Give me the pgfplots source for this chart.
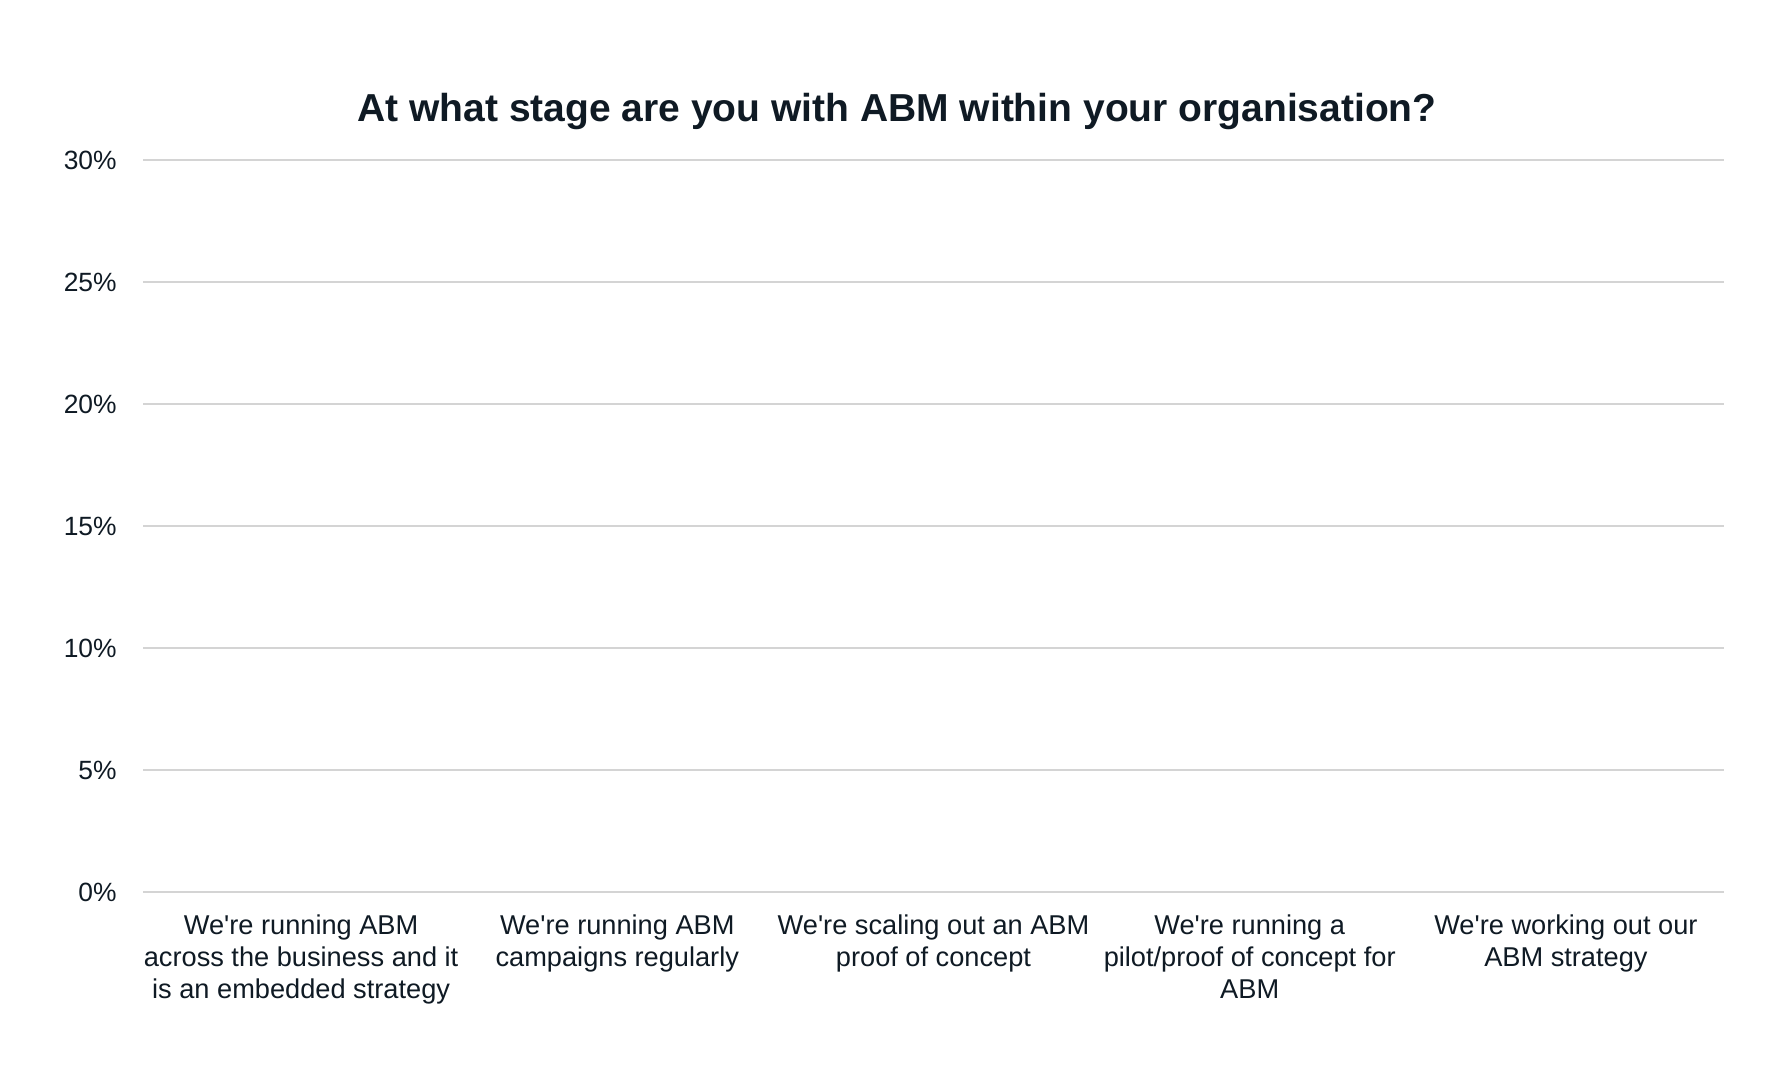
\documentclass[border=0pt]{standalone}
\usepackage{pgfplots}
\pgfplotsset{compat=1.18}
\usepackage{fontspec}
\setmainfont{Liberation Sans}
\definecolor{txt}{HTML}{0F1A24}
\definecolor{gridc}{HTML}{D4D4D4}
\newcommand{\ap}{\textquotesingle}
\begin{document}
\begin{tikzpicture}[x=1pt,y=1pt]
\fill[white] (0,0) rectangle (883.5,540);
\useasboundingbox (0,0) rectangle (883.5,540);
\node[font=\fontsize{19.5}{23}\selectfont\bfseries, text=txt] at (448.5,484) {At what stage are you with ABM within your organisation?};
\begin{axis}[
  at={(71.5pt,94pt)}, anchor=south west,
  scale only axis, width=790.5pt, height=366pt,
  xmin=-0.5, xmax=4.5, ymin=0, ymax=30,
  axis line style={draw=none},
  ymajorgrids, grid style={draw=gridc, line width=0.8pt},
  ytick={0,5,10,15,20,25,30},
  yticklabels={0\%,5\%,10\%,15\%,20\%,25\%,30\%},
  xtick={0,1,2,3,4},
  xticklabels={{We\ap re running ABM\\across the business and it\\is an embedded strategy},
               {We\ap re running ABM\\campaigns regularly},
               {We\ap re scaling out an ABM\\proof of concept},
               {We\ap re running a\\pilot/proof of concept for\\ABM},
               {We\ap re working out our\\ABM strategy}},
  major tick length=0pt,
  tick style={draw=none},
  yticklabel style={font=\fontsize{13.2}{15.8}\selectfont, text=txt, inner sep=0pt, anchor=east, xshift=-13pt},
  xticklabel style={font=\fontsize{13.6}{15.8}\selectfont, text=txt, inner sep=0pt, anchor=north, yshift=-11.4pt, align=center},
]
\addplot[ybar, draw=none, fill=none] coordinates {(0,0) (1,0) (2,0) (3,0) (4,0)};
\end{axis}
\end{tikzpicture}
\end{document}
